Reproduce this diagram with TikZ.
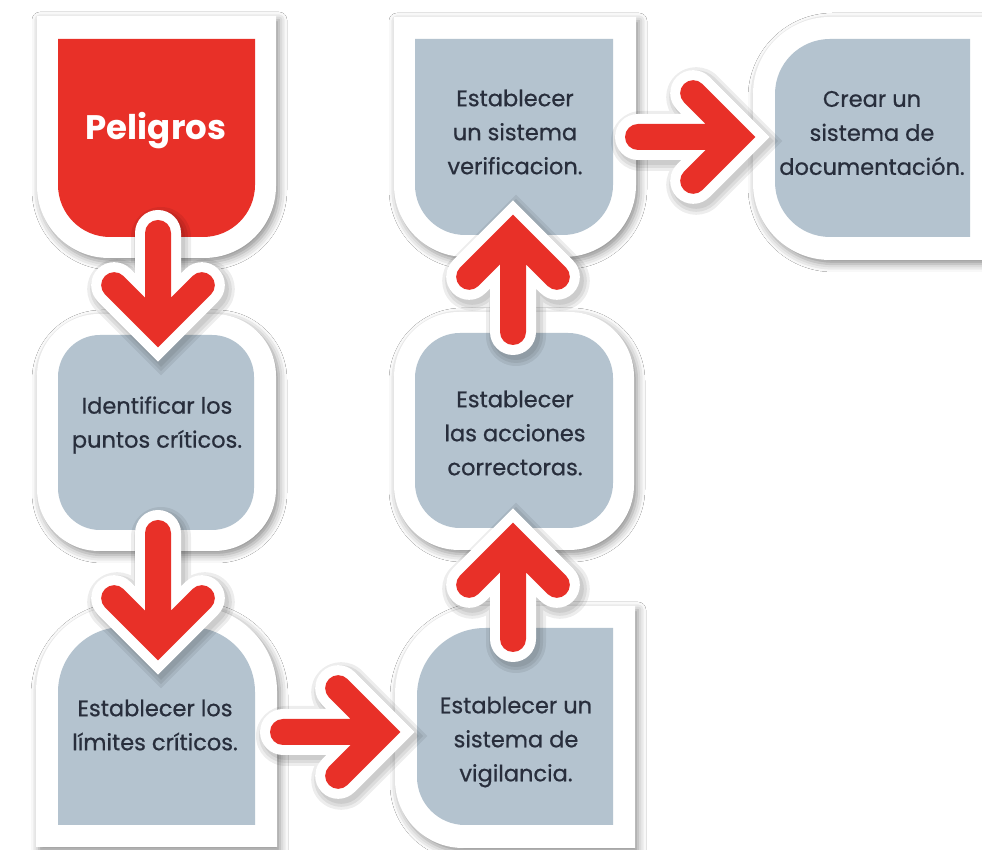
\documentclass[tikz,border=0pt]{standalone}
\usepackage{fontspec}
\setmainfont{Poppins}
\newfontfamily\stepfont{Poppins}[FakeBold=0.7]
\usetikzlibrary{calc,shadows.blur}

\definecolor{hazard}{RGB}{232,48,40}
\definecolor{panel}{RGB}{180,195,207}
\definecolor{ink}{RGB}{40,46,60}

% #1 style, #2 left, #3 top, #4 right, #5 bottom,
% #6..#9 corner radii: top-left, top-right, bottom-right, bottom-left
\newcommand\cornerbox[9]{%
  \path[#1] ({#2+#6},#3) -- ({#4-#7},#3)
    arc[start angle=90,end angle=0,radius=#7pt] -- (#4,{#5+#8})
    arc[start angle=0,end angle=-90,radius=#8pt] -- ({#2+#9},#5)
    arc[start angle=-90,end angle=-180,radius=#9pt] -- (#2,{#3-#6})
    arc[start angle=180,end angle=90,radius=#6pt] -- cycle;}

% thick chevron arrow from tail #1 to head vertex #2
\newcommand\flowarrow[2]{%
  \foreach \w in {60,54,48}
    \draw[black,opacity=0.07,line width=\w pt,line cap=round,line join=miter,
          transform canvas={shift={(3pt,-4pt)}}]
      ($(#2)!62pt!45:(#1)$) -- (#2) -- ($(#2)!62pt!-45:(#1)$) (#1) -- (#2);
  \draw[arrowrim] ($(#2)!62pt!45:(#1)$) -- (#2) -- ($(#2)!62pt!-45:(#1)$) (#1) -- (#2);
  \draw[arrowcore] ($(#2)!62pt!45:(#1)$) -- (#2) -- ($(#2)!62pt!-45:(#1)$) (#1) -- (#2);}

\tikzset{
  frame/.style={fill=white,blur shadow={shadow xshift=3pt,shadow yshift=-4pt,
      shadow blur radius=8pt,shadow opacity=45}},
  graypanel/.style={fill=panel},
  redpanel/.style={fill=hazard},
  arrowrim/.style={white,line width=46pt,line cap=round,line join=miter},
  arrowcore/.style={hazard,line width=26pt,line cap=round,line join=miter},
  steptext/.style={text=ink,align=center,font=\stepfont\fontsize{22.5}{34}\selectfont},
  titletext/.style={text=white,font=\bfseries\fontsize{34}{40}\selectfont},
}

\begin{document}
\begin{tikzpicture}[x=1pt,y=1pt]
\useasboundingbox (0,0) rectangle (982,850);
\fill[white] (0,0) rectangle (982,850);

% outer white frames
\cornerbox{frame}{37}{834}{276}{592}{0.01}{0.01}{72}{72}
\cornerbox{frame}{37}{536}{276}{299}{62}{62}{62}{62}
\cornerbox{frame}{36}{244}{277}{3}{85}{85}{0.01}{0.01}
\cornerbox{frame}{395}{244}{635}{2}{88}{0.01}{0.01}{68}
\cornerbox{frame}{394}{538}{634}{300}{65}{65}{65}{65}
\cornerbox{frame}{394}{833}{636}{593}{0.01}{0.01}{72}{72}
\cornerbox{frame}{753}{833}{992}{590}{77}{0.01}{0.01}{77}

% inner panels
\cornerbox{redpanel}{58}{811}{255}{613}{0.01}{0.01}{52}{52}
\cornerbox{graypanel}{58}{515}{254}{320}{42}{42}{42}{42}
\cornerbox{graypanel}{58}{223}{255}{25}{65}{65}{0.01}{0.01}
\cornerbox{graypanel}{417}{222}{613}{25}{68}{0.01}{0.01}{48}
\cornerbox{graypanel}{415}{517}{613}{322}{45}{45}{45}{45}
\cornerbox{graypanel}{415}{811}{613}{615}{0.01}{0.01}{50}{50}
\cornerbox{graypanel}{775}{811}{970}{613}{55}{0.01}{0.01}{55}

% arrow end points
\coordinate (t1) at (158,617); \coordinate (h1) at (158,521);
\coordinate (t2) at (158,317); \coordinate (h2) at (158,208);
\coordinate (t3) at (283,118); \coordinate (h3) at (382,118);
\coordinate (t4) at (513,211); \coordinate (h4) at (513,309);
\coordinate (t5) at (513,518); \coordinate (h5) at (513,617);
\coordinate (t6) at (638,713); \coordinate (h6) at (737,713);

\flowarrow{t1}{h1}
\flowarrow{t2}{h2}
\flowarrow{t3}{h3}
\flowarrow{t4}{h4}
\flowarrow{t5}{h5}
\flowarrow{t6}{h6}

% labels
\node[titletext] (peligros) at (156,719) {Peligros};
\node[steptext] (identificar) at (157,425) {Identificar los\\puntos críticos.};
\node[steptext] (limites) at (155,125) {Establecer los\\límites críticos.};
\node[steptext] (vigilancia) at (516,108) {Establecer un\\sistema de\\vigilancia.};
\node[steptext] (acciones) at (515,417) {Establecer\\las acciones\\correctoras.};
\node[steptext] (verificacion) at (515,718) {Establecer\\un sistema\\verificacion.};
\node[steptext] (documentacion) at (872,717) {Crear un\\sistema de\\documentación.};
\end{tikzpicture}
\end{document}
